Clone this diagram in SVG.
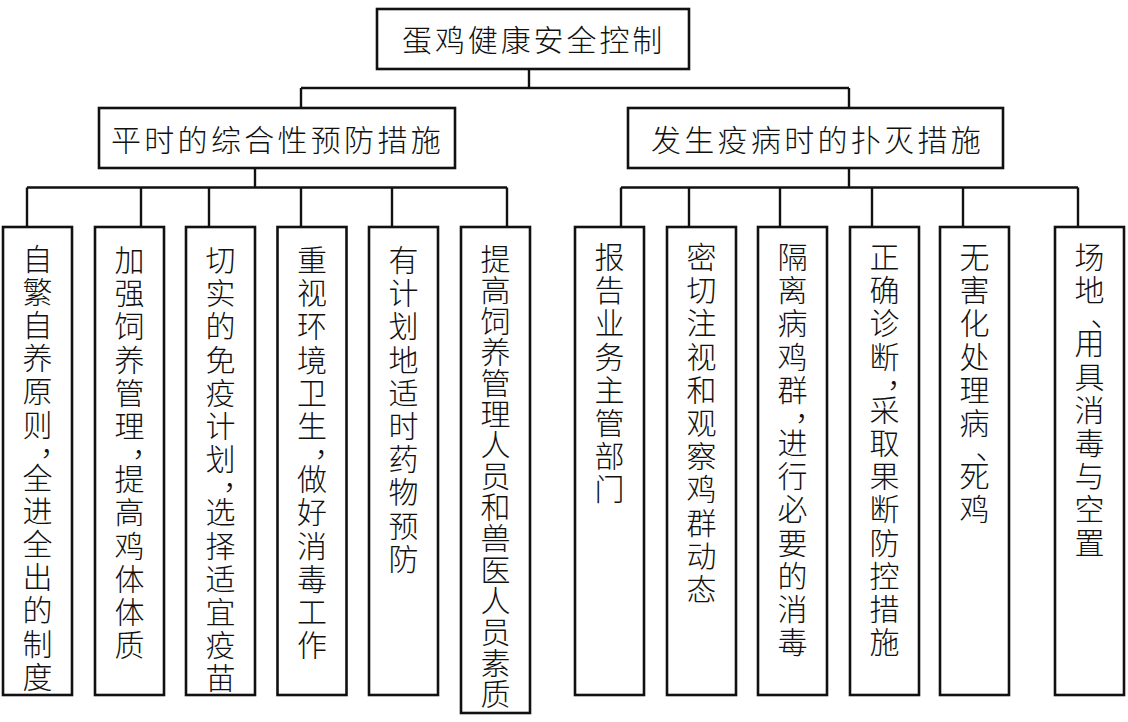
<svg xmlns="http://www.w3.org/2000/svg" width="1128" height="722" viewBox="0 0 1128 722">
<style>
.box{fill:#fff;stroke:#111;stroke-width:2.6}
.ln{fill:none;stroke:#111;stroke-width:2.4}
text{font-family:"Noto Sans CJK SC","Noto Sans CJK JP",sans-serif;font-size:30px;font-weight:300;fill:#111;text-anchor:middle}
</style>
<rect width="1128" height="722" fill="#fff"/>
<g id="connectors">
<path class="ln" d="M529 69V88M301 88H849M301 88V108M849 88V108"/>
<path class="ln" d="M255 168V187.5M27 187.5H507M27 187.5V227M141 187.5V227M209 187.5V227M301 187.5V227M392 187.5V227M507 187.5V227"/>
<path class="ln" d="M849 168V187.5M621 187.5H1078M621 187.5V227M689 187.5V227M780 187.5V227M872 187.5V227M963 187.5V227M1078 187.5V227"/>
</g>
<g id="n-root"><rect class="box" x="377" y="9" width="312" height="60"/><text x="417 449.9 482.8 515.7 548.6 581.5 614.4 647.3" y="51">蛋鸡健康安全控制</text></g>
<g id="n-prevent"><rect class="box" x="99" y="108" width="356" height="60"/><text x="126 159.3 192.6 225.9 259.2 292.5 325.8 359.1 392.4 425.7" y="150.5">平时的综合性预防措施</text></g>
<g id="n-outbreak"><rect class="box" x="628" y="108" width="375" height="60"/><text x="666 699.3 732.6 765.9 799.2 832.5 865.8 899.1 932.4 965.7" y="150.5">发生疫病时的扑灭措施</text></g>
<g id="n-l1"><rect class="box" x="3" y="227" width="69" height="468"/><text x="37.5 37.5 37.5 37.5 37.5 37.5 55 37.5 37.5 37.5 37.5 37.5 37.5 37.5" y="269.5 302.7 335.9 369.1 402.3 435.5 454.5 488.6 521.8 555 588.2 621.4 654.6 687.8">自繁自养原则，全进全出的制度</text></g>
<g id="n-l2"><rect class="box" x="95" y="227" width="69" height="468"/><text x="129.5 129.5 129.5 129.5 129.5 129.5 147 129.5 129.5 129.5 129.5 129.5 129.5" y="271 304.2 337.4 370.6 403.8 437 456 490.1 523.3 556.5 589.7 622.9 656.1">加强饲养管理，提高鸡体体质</text></g>
<g id="n-l3"><rect class="box" x="186" y="227" width="69" height="468"/><text x="220.5 220.5 220.5 220.5 220.5 220.5 220.5 238 220.5 220.5 220.5 220.5 220.5 220.5" y="271 304.2 337.4 370.6 403.8 437 470.2 489.2 523.3 556.5 589.7 622.9 656.1 689.3">切实的免疫计划，选择适宜疫苗</text></g>
<g id="n-l4"><rect class="box" x="277.5" y="227" width="69" height="468"/><text x="312 312 312 312 312 312 329.5 312 312 312 312 312 312" y="271 304.2 337.4 370.6 403.8 437 456 490.1 523.3 556.5 589.7 622.9 656.1">重视环境卫生，做好消毒工作</text></g>
<g id="n-l5"><rect class="box" x="369" y="227" width="69" height="468"/><text x="403.5 403.5 403.5 403.5 403.5 403.5 403.5 403.5 403.5 403.5" y="271 304.2 337.4 370.6 403.8 437 470.2 503.4 536.6 569.8">有计划地适时药物预防</text></g>
<g id="n-l6"><rect class="box" x="461" y="227" width="69" height="486"/><text x="495.5 495.5 495.5 495.5 495.5 495.5 495.5 495.5 495.5 495.5 495.5 495.5 495.5 495.5 495.5" y="269.5 300.6 331.7 362.8 393.9 425 456.1 487.2 518.3 549.4 580.5 611.6 642.7 673.8 704.9">提高饲养管理人员和兽医人员素质</text></g>
<g id="n-r1"><rect class="box" x="575" y="227" width="69" height="468"/><text x="609.5 609.5 609.5 609.5 609.5 609.5 609.5 609.5" y="268 301.2 334.4 367.6 400.8 434 467.2 500.4">报告业务主管部门</text></g>
<g id="n-r2"><rect class="box" x="667" y="227" width="69" height="468"/><text x="701.5 701.5 701.5 701.5 701.5 701.5 701.5 701.5 701.5 701.5 701.5" y="268 301.2 334.4 367.6 400.8 434 467.2 500.4 533.6 566.8 600">密切注视和观察鸡群动态</text></g>
<g id="n-r3"><rect class="box" x="758" y="227" width="69" height="468"/><text x="792.5 792.5 792.5 792.5 792.5 810 792.5 792.5 792.5 792.5 792.5 792.5 792.5" y="268 301.2 334.4 367.6 400.8 419.8 453.9 487.1 520.3 553.5 586.7 619.9 653.1">隔离病鸡群，进行必要的消毒</text></g>
<g id="n-r4"><rect class="box" x="850" y="227" width="69" height="468"/><text x="884.5 884.5 884.5 884.5 902 884.5 884.5 884.5 884.5 884.5 884.5 884.5 884.5" y="268 301.2 334.4 367.6 386.6 420.7 453.9 487.1 520.3 553.5 586.7 619.9 653.1">正确诊断，采取果断防控措施</text></g>
<g id="n-r5"><rect class="box" x="940" y="227" width="69" height="468"/><text x="974.5 974.5 974.5 974.5 974.5 974.5 990.5 974.5 974.5" y="268 301.2 334.4 367.6 400.8 434 459 487.1 520.3">无害化处理病、死鸡</text></g>
<g id="n-r6"><rect class="box" x="1055" y="227" width="69" height="468"/><text x="1089.5 1089.5 1105.5 1089.5 1089.5 1089.5 1089.5 1089.5 1089.5 1089.5" y="268 301.2 326 354.3 387.5 420.7 453.9 487.1 520.3 553.5">场地、用具消毒与空置</text></g>
</svg>
